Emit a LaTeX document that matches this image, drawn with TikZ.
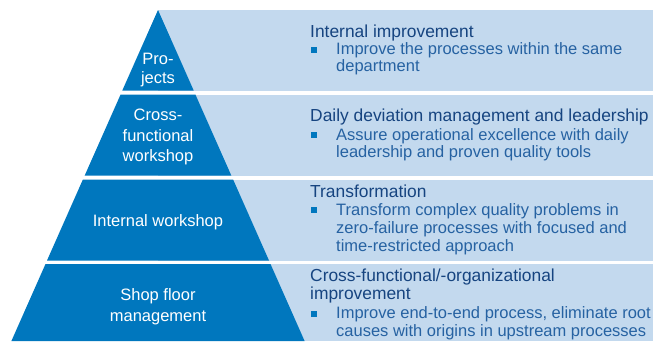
\documentclass[tikz,border=0pt]{standalone}
\usepackage{fontspec}
\setmainfont{Liberation Sans}
\definecolor{dkblue}{RGB}{0,119,190}
\definecolor{ltblue}{RGB}{195,217,238}
\definecolor{ttl}{RGB}{22,68,128}
\definecolor{bdy}{RGB}{38,98,162}
\begin{document}
\begin{tikzpicture}[x=1pt,y=-1pt,
  pyr/.style={text=white, font=\fontsize{16.5}{20.5}\selectfont, align=center, inner sep=0pt, anchor=base},
  ttlt/.style={text=ttl, font=\fontsize{17.4}{17.6}\selectfont, align=left, inner sep=0pt, anchor=base west},
  bdyt/.style={text=bdy, font=\fontsize{16.5}{17.7}\selectfont, align=left, inner sep=0pt, anchor=base west},
  bul/.style={fill=dkblue, draw=none, minimum size=6pt, inner sep=0pt, anchor=center}]
\useasboundingbox (0,0) rectangle (653,341);
% light bands
\fill[ltblue] (158,10) rectangle (653,90.5);
\fill[ltblue] (158,94.5) rectangle (653,175.5);
\fill[ltblue] (158,179.5) rectangle (653,260.5);
\fill[ltblue] (158,264) rectangle (653,341);
% pyramid
\fill[dkblue] (158,10) -- (193.7,90.5) -- (122.3,90.5) -- cycle;
\fill[dkblue] (120.6,94.5) -- (195.4,94.5) -- (231.3,175.5) -- (84.7,175.5) -- cycle;
\fill[dkblue] (82.9,179.5) -- (233.1,179.5) -- (269,260.5) -- (47,260.5) -- cycle;
\fill[dkblue] (45.5,264) -- (270.5,264) -- (304.6,341) -- (11.4,341) -- cycle;
% pyramid labels (anchor = baseline of last line)
\node[pyr, font=\fontsize{16.5}{18.5}\selectfont] (p1) at (158,83) {Pro-\\jects};
\node[pyr] (p2) at (158,161.5) {Cross-\\functional\\workshop};
\node[pyr] (p3) at (158,226) {Internal workshop};
\node[pyr] (p4) at (158,321) {Shop floor\\management};
% texts (anchor = baseline of last line)
\node[ttlt] (t1) at (310,37.5) {Internal improvement};
\node[bul] (b1) at (314,49.5) {};
\node[bdyt] (d1) at (336,71.8) {Improve the processes within the same\\department};
\node[ttlt] (t2) at (310,121.7) {Daily deviation management and leadership};
\node[bul] (b2) at (314,135.3) {};
\node[bdyt] (d2) at (336,157.7) {Assure operational excellence with daily\\leadership and proven quality tools};
\node[ttlt] (t3) at (310,197.3) {Transformation};
\node[bul] (b3) at (314,210.3) {};
\node[bdyt] (d3) at (336,251) {Transform complex quality problems in\\zero-failure processes with focused and\\time-restricted approach};
\node[ttlt] (t4) at (310,299.3) {Cross-functional/-organizational\\improvement};
\node[bul] (b4) at (314,313.6) {};
\node[bdyt] (d4) at (336,336) {Improve end-to-end process, eliminate root\\causes with origins in upstream processes};
\end{tikzpicture}
\end{document}
